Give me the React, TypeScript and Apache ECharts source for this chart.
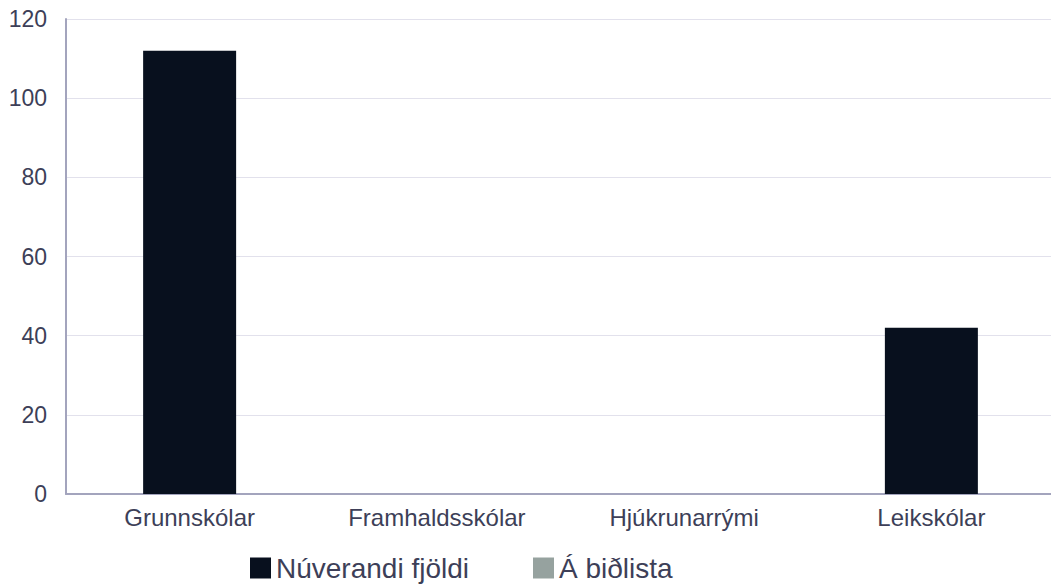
import React, { useEffect, useRef } from "react";
import * as echarts from "echarts";

const categories = ["Grunnskólar", "Framhaldsskólar", "Hjúkrunarrými", "Leikskólar"];
const currentValues = [112, 0, 0, 42];
const waitlistValues = [0, 0, 0, 0];
const seriesNames = ["Núverandi fjöldi", "Á biðlista"];
const yTicks = { min: 0, max: 120, interval: 20 };

export default function App() {
  const ref = useRef<HTMLDivElement>(null);
  useEffect(() => {
    if (!ref.current) return;
    const chart = echarts.init(ref.current, null, { renderer: "svg" });
    const font = "Liberation Sans";
    chart.setOption({
      animation: false,
      textStyle: { fontFamily: font },
      grid: { left: 66, right: 0, top: 19, bottom: 92, containLabel: false },
      legend: {
        top: 549,
        left: 245,
        itemWidth: 21,
        itemHeight: 21,
        itemGap: 64,
        icon: "rect",
        textStyle: { fontSize: 28, color: "#3d3f58", fontFamily: font },
        data: seriesNames,
      },
      xAxis: {
        type: "category",
        data: categories,
        axisLine: { show: true, lineStyle: { color: "#a3a4bd", width: 2 } },
        axisTick: { show: false },
        axisLabel: { fontSize: 24, color: "#3d3f58", margin: 11, fontFamily: font },
        splitLine: { show: false },
      },
      yAxis: {
        type: "value",
        min: yTicks.min,
        max: yTicks.max,
        interval: yTicks.interval,
        axisLine: { show: true, lineStyle: { color: "#a3a4bd", width: 2 } },
        axisTick: { show: false },
        axisLabel: { fontSize: 23, color: "#3d3f58", margin: 19, fontFamily: font },
        splitLine: { show: true, lineStyle: { color: "#e2e1ec", width: 1 } },
      },
      series: [
        {
          name: seriesNames[0],
          type: "bar",
          data: currentValues,
          barWidth: 93,
          barGap: "-100%",
          itemStyle: { color: "#08101e" },
        },
        {
          name: seriesNames[1],
          type: "bar",
          data: waitlistValues,
          barWidth: 93,
          itemStyle: { color: "#96a29f" },
        },
      ],
    });
    return () => chart.dispose();
  }, []);
  return (
    <div style={{ position: "fixed", left: 0, top: 0, width: 1051, height: 586, overflow: "hidden", background: "#fff" }}>
      <div ref={ref} style={{ width: 1055, height: 586 }} />
    </div>
  );
}
